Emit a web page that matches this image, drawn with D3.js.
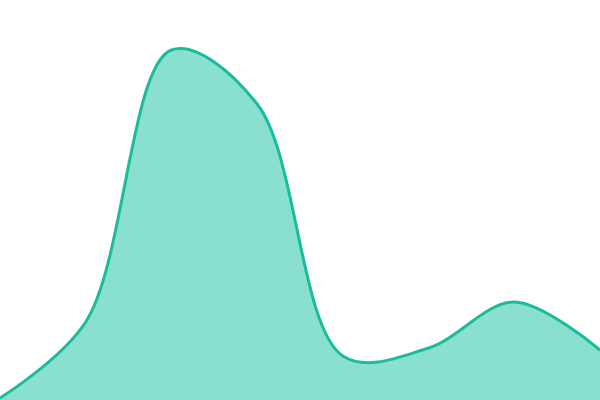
<!DOCTYPE html>
<html>
<head>
<meta charset="utf-8">
<script src="https://cdn.jsdelivr.net/npm/d3@7"></script>
<style>
  body { margin: 0; background: #fff; }
</style>
</head>
<body>
<div id="vis-container"></div>
<script>
// Data
const categories = ["A", "B", "C", "D", "E", "F", "G", "H"];
const values = [0.5, 19.5, 87.5, 74, 11, 13, 24.5, 12.5];

const width = 600;
const height = 400;

const svg = d3.select("#vis-container")
              .append("svg")
              .attr("width", width)
              .attr("height", height);

// Scales
const x = d3.scalePoint()
            .domain(categories)
            .range([0, width]);

const y = d3.scaleLinear()
            .domain([0, 100])
            .range([height, 0]);

const data = categories.map((c, i) => ({ cat: c, value: values[i] }));

const area = d3.area()
               .x(d => x(d.cat))
               .y0(height)
               .y1(d => y(d.value))
               .curve(d3.curveCatmullRom);

const line = d3.line()
               .x(d => x(d.cat))
               .y(d => y(d.value))
               .curve(d3.curveCatmullRom);

svg.append("path")
   .datum(data)
   .attr("d", area)
   .attr("fill", "#89e0cf");

svg.append("path")
   .datum(data)
   .attr("d", line)
   .attr("fill", "none")
   .attr("stroke", "#1abc9c")
   .attr("stroke-width", 3);
</script>
</body>
</html>
